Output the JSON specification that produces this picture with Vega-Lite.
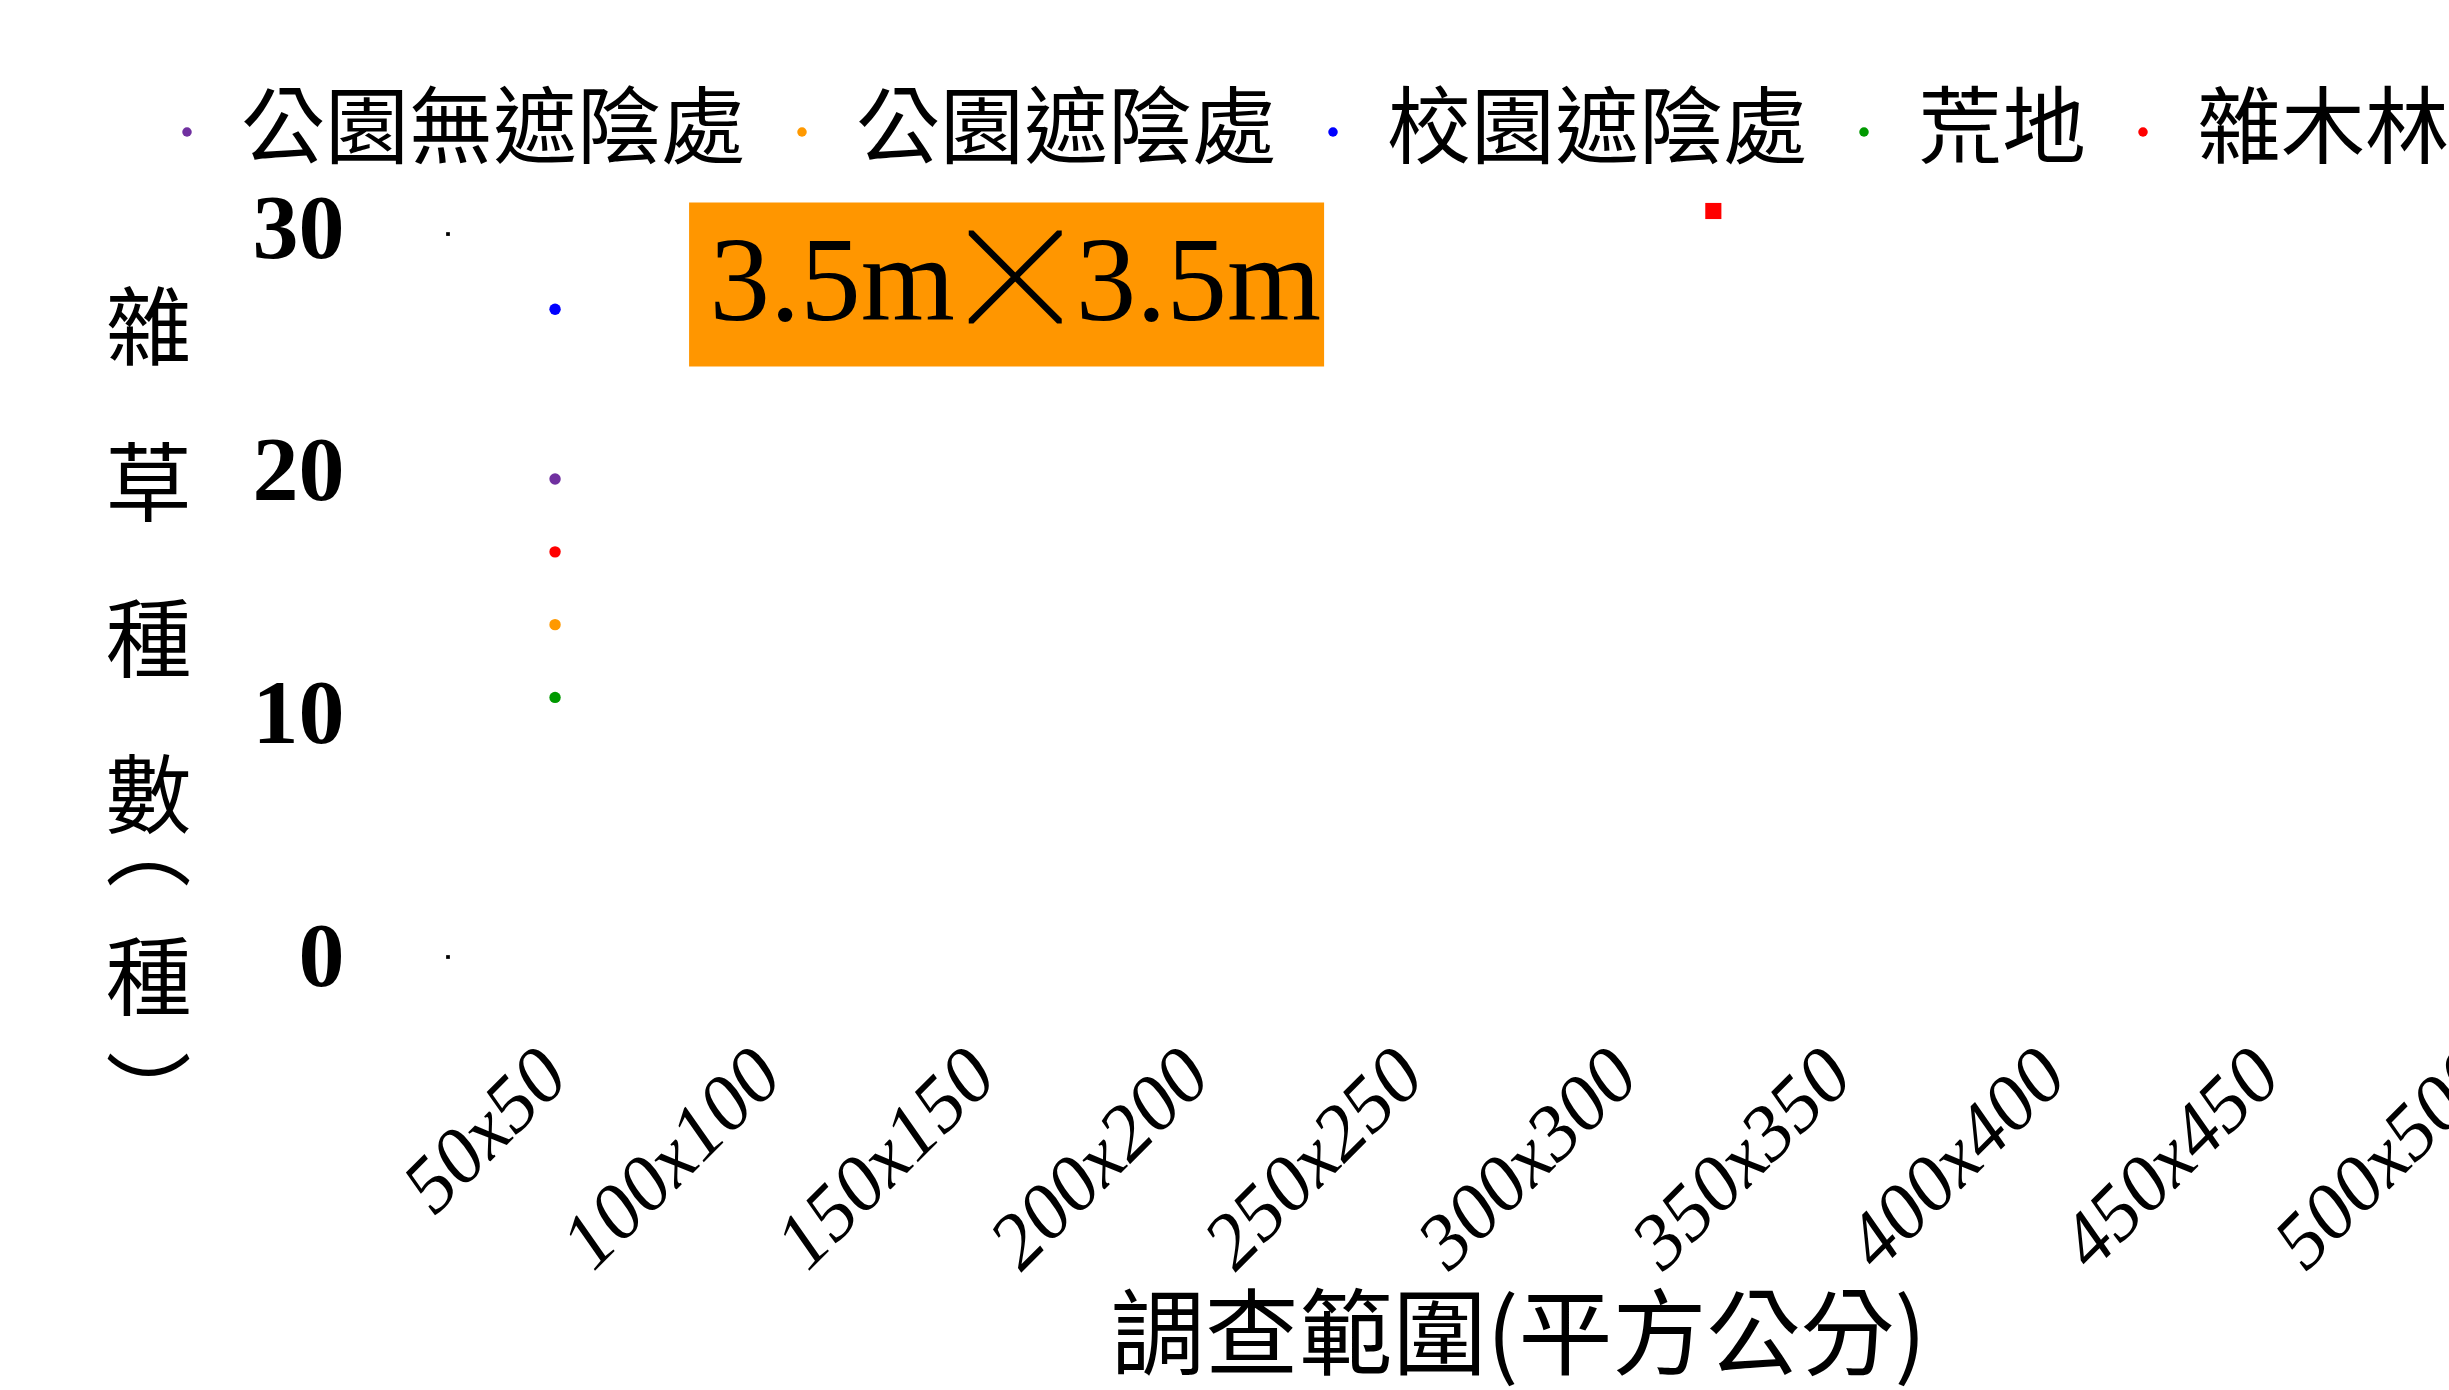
{
  "$schema": "https://vega.github.io/schema/vega-lite/v6.json",
  "autosize": {"type": "none"},
  "padding": {"left": 448, "top": 186, "right": -140, "bottom": 433},
  "width": 2141,
  "height": 771,
  "background": "white",
  "config": {"view": {"stroke": null}},
  "datasets": {
    "points": [
      {"size": 50, "count": 19.7, "site": "公園無遮陰處"},
      {"size": 50, "count": 13.7, "site": "公園遮陰處"},
      {"size": 50, "count": 26.7, "site": "校園遮陰處"},
      {"size": 50, "count": 10.7, "site": "荒地"},
      {"size": 50, "count": 16.7, "site": "雜木林"}
    ],
    "extra": [
      {"size": 320.5, "count": 30.75, "site": "雜木林"}
    ],
    "marks": [
      {"size": 25, "count": 29.8},
      {"size": 25, "count": 0}
    ],
    "box": [
      {"size": 81.3, "size2": 229.6, "count": 31.1, "count2": 24.34, "pair": "3.5m\u00a0\u00a0\u00a0\u00a03.5m", "cross": "╳", "cx": 157.5, "cy": 27.76}
    ]
  },
  "layer": [
    {
      "data": {"name": "box"},
      "mark": {"type": "rect", "color": "#FF9600"},
      "encoding": {
        "x": {
          "field": "size", "type": "quantitative",
          "scale": {"domain": [25, 525], "nice": false, "zero": false},
          "axis": {
            "title": "調查範圍(平方公分)",
            "titleFont": "Noto Sans CJK TC", "titleFontSize": 94, "titleFontWeight": "normal", "titleColor": "black",
            "titleX": 1070, "titleY": 382, "titleBaseline": "middle", "titleAlign": "center",
            "values": [50, 100, 150, 200, 250, 300, 350, 400, 450, 500],
            "labelExpr": "datum.value + 'x' + datum.value",
            "labelAngle": -45, "labelFont": "Liberation Serif", "labelFontStyle": "italic", "labelFontSize": 79, "labelColor": "black",
            "labelPadding": 79, "labelOffset": -28, "labelFlush": false, "labelOverlap": false, "labelBound": false, "labelLimit": 0,
            "ticks": false, "domain": false, "grid": false
          }
        },
        "x2": {"field": "size2"},
        "y": {
          "field": "count", "type": "quantitative",
          "scale": {"domain": [0, 31.78], "nice": false, "zero": false},
          "axis": {
            "title": ["雜", "\u200b", "\u200b", "\u200b", "\u200b", "\u200b", "\u200b", "\u200b", "\u200b", "\u200b", "\u200b", "\u200b", "草", "\u200b", "\u200b", "\u200b", "\u200b", "\u200b", "\u200b", "\u200b", "\u200b", "\u200b", "\u200b", "\u200b", "種", "\u200b", "\u200b", "\u200b", "\u200b", "\u200b", "\u200b", "\u200b", "\u200b", "\u200b", "\u200b", "\u200b", "數", "\u200b", "\u200b", "\u200b", "︵", "\u200b", "\u200b", "\u200b", "\u200b", "\u200b", "\u200b", "\u200b", "\u200b", "\u200b", "種", "\u200b", "\u200b", "\u200b", "\u200b", "\u200b", "\u200b", "\u200b", "\u200b", "︶"],
            "titleAngle": 0, "titleFont": "Noto Sans CJK TC", "titleFontSize": 86, "titleFontWeight": "normal", "titleColor": "black",
            "titleLineHeight": 13, "titleX": -300, "titleY": 146, "titleAlign": "center", "titleBaseline": "middle",
            "values": [0, 10, 20, 30],
            "labelFont": "Liberation Serif", "labelFontSize": 92, "labelFontWeight": "bold", "labelColor": "black",
            "labelPadding": 104, "ticks": false, "domain": false, "grid": false
          }
        },
        "y2": {"field": "count2"}
      }
    },
    {
      "data": {"name": "box"},
      "mark": {"type": "text", "font": "Liberation Serif", "fontSize": 121, "color": "black", "align": "center", "baseline": "middle"},
      "encoding": {
        "x": {"field": "cx", "type": "quantitative"},
        "y": {"field": "cy", "type": "quantitative"},
        "text": {"field": "pair"}
      }
    },
    {
      "data": {"name": "box"},
      "mark": {"type": "text", "font": "Noto Sans CJK TC", "fontSize": 90, "fontWeight": "bold", "color": "black", "stroke": "black", "strokeWidth": 3, "align": "center", "baseline": "middle"},
      "encoding": {
        "x": {"field": "cx", "type": "quantitative"},
        "y": {"field": "cy", "type": "quantitative"},
        "text": {"field": "cross"}
      }
    },
    {
      "data": {"name": "points"},
      "mark": {"type": "point", "filled": true, "shape": "circle", "size": 130, "opacity": 1},
      "encoding": {
        "x": {"field": "size", "type": "quantitative"},
        "y": {"field": "count", "type": "quantitative"},
        "color": {
          "field": "site", "type": "nominal",
          "scale": {
            "domain": ["公園無遮陰處", "公園遮陰處", "校園遮陰處", "荒地", "雜木林"],
            "range": ["#7030A0", "#FF9900", "#0000FF", "#009900", "#FF0000"]
          },
          "legend": {
            "orient": "none", "legendX": -303, "legendY": -96, "direction": "horizontal",
            "title": null, "labelFont": "Noto Sans CJK TC", "labelFontSize": 84, "labelColor": "black",
            "labelOffset": 12, "columnPadding": 14, "symbolSize": 90, "symbolType": "circle", "labelLimit": 0
          }
        }
      }
    },
    {
      "data": {"name": "extra"},
      "mark": {"type": "square", "color": "#FF0000", "size": 260, "opacity": 1},
      "encoding": {
        "x": {"field": "size", "type": "quantitative"},
        "y": {"field": "count", "type": "quantitative"}
      }
    },
    {
      "data": {"name": "marks"},
      "mark": {"type": "square", "color": "black", "size": 14, "opacity": 1},
      "encoding": {
        "x": {"field": "size", "type": "quantitative"},
        "y": {"field": "count", "type": "quantitative"}
      }
    }
  ]
}
